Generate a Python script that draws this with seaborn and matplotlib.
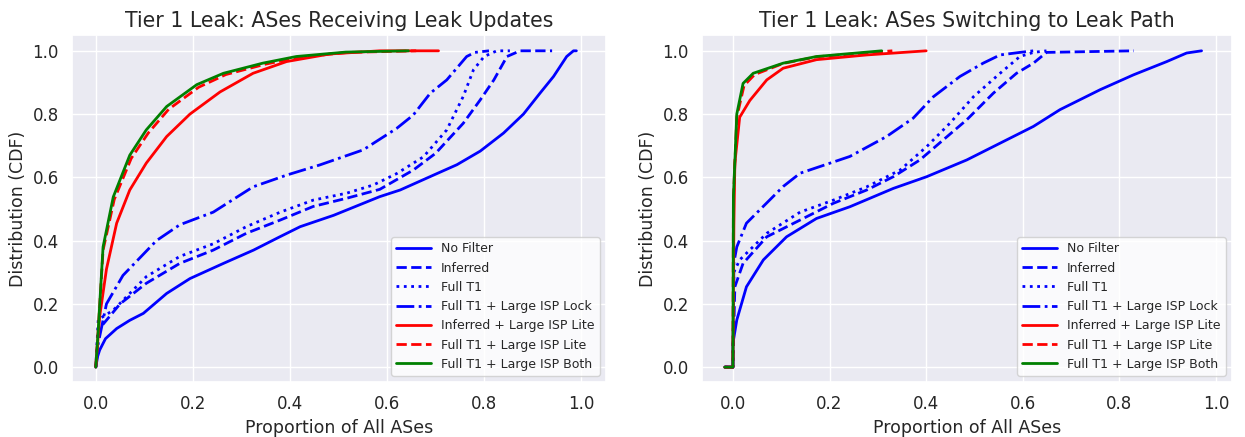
import matplotlib
matplotlib.use("Agg")
import matplotlib.pyplot as plt
import seaborn as sns
import pandas as pd

# ---- Data: CDF curves (x = proportion, y = CDF) ----
labels = ["No Filter", "Inferred", "Full T1", "Full T1 + Large ISP Lock",
          "Inferred + Large ISP Lite", "Full T1 + Large ISP Lite", "Full T1 + Large ISP Both"]
colors = ["blue", "blue", "blue", "blue", "red", "red", "green"]
styles = ["-", "--", ":", "-.", "-", "--", "-"]

# Left panel: ASes Receiving Leak Updates
recv_nofilter_x = [0.0, 0.004, 0.008, 0.02, 0.043, 0.07, 0.098, 0.146, 0.194, 0.263, 0.325, 0.379, 0.421, 0.49, 0.585, 0.627, 0.70, 0.744, 0.792, 0.84, 0.881, 0.915, 0.943, 0.97, 0.984, 0.99]
recv_nofilter_y = [0.0, 0.035, 0.054, 0.09, 0.122, 0.148, 0.17, 0.233, 0.28, 0.328, 0.37, 0.412, 0.444, 0.48, 0.539, 0.56, 0.61, 0.64, 0.683, 0.74, 0.80, 0.866, 0.919, 0.982, 1.0, 1.0]
recv_inferred_x = [0.0, 0.006, 0.012, 0.05, 0.104, 0.173, 0.242, 0.31, 0.38, 0.448, 0.517, 0.585, 0.654, 0.70, 0.757, 0.792, 0.82, 0.847, 0.874, 0.94]
recv_inferred_y = [0.0, 0.12, 0.13, 0.20, 0.265, 0.328, 0.37, 0.423, 0.465, 0.508, 0.534, 0.562, 0.623, 0.676, 0.771, 0.845, 0.908, 0.982, 1.0, 1.0]
recv_fullt1_x = [0.0, 0.005, 0.036, 0.104, 0.173, 0.242, 0.31, 0.38, 0.448, 0.517, 0.572, 0.62, 0.675, 0.723, 0.757, 0.778, 0.80, 0.826, 0.853]
recv_fullt1_y = [0.0, 0.15, 0.18, 0.286, 0.35, 0.39, 0.444, 0.49, 0.528, 0.55, 0.576, 0.612, 0.665, 0.75, 0.856, 0.94, 0.982, 1.0, 1.0]
recv_lock_x = [0.0, 0.005, 0.022, 0.056, 0.125, 0.173, 0.242, 0.324, 0.393, 0.461, 0.551, 0.62, 0.654, 0.689, 0.723, 0.764, 0.781, 0.81]
recv_lock_y = [0.0, 0.075, 0.2, 0.29, 0.40, 0.45, 0.49, 0.57, 0.607, 0.639, 0.687, 0.755, 0.797, 0.866, 0.908, 0.982, 0.995, 1.0]
recv_inflite_x = [0.0, 0.008, 0.022, 0.043, 0.07, 0.104, 0.146, 0.194, 0.256, 0.324, 0.393, 0.482, 0.585, 0.706]
recv_inflite_y = [0.0, 0.16, 0.31, 0.455, 0.56, 0.645, 0.729, 0.80, 0.87, 0.929, 0.966, 0.99, 1.0, 1.0]
recv_t1lite_x = [0.0, 0.005, 0.015, 0.038, 0.073, 0.108, 0.150, 0.212, 0.268, 0.350, 0.420, 0.52, 0.66]
recv_t1lite_y = [0.0, 0.117, 0.37, 0.53, 0.66, 0.74, 0.815, 0.885, 0.925, 0.958, 0.98, 0.995, 1.0]
recv_both_x = [0.0, 0.005, 0.015, 0.036, 0.07, 0.104, 0.146, 0.208, 0.263, 0.344, 0.413, 0.515, 0.644]
recv_both_y = [0.0, 0.117, 0.38, 0.538, 0.67, 0.75, 0.824, 0.893, 0.929, 0.961, 0.982, 0.996, 1.0]

# Right panel: ASes Switching to Leak Path
sw_nofilter_x = [-0.017, 0.0, 0.0, 0.008, 0.028, 0.063, 0.111, 0.173, 0.242, 0.332, 0.401, 0.484, 0.553, 0.622, 0.677, 0.76, 0.829, 0.898, 0.939, 0.97]
sw_nofilter_y = [0.0, 0.0, 0.075, 0.149, 0.254, 0.339, 0.412, 0.47, 0.507, 0.565, 0.602, 0.655, 0.708, 0.761, 0.814, 0.877, 0.924, 0.966, 0.993, 1.0]
sw_inferred_x = [-0.017, 0.0, 0.004, 0.021, 0.07, 0.139, 0.208, 0.277, 0.332, 0.387, 0.435, 0.484, 0.539, 0.587, 0.622, 0.649, 0.83]
sw_inferred_y = [0.0, 0.0, 0.254, 0.328, 0.412, 0.465, 0.518, 0.56, 0.602, 0.655, 0.718, 0.782, 0.866, 0.929, 0.961, 0.995, 1.0]
sw_fullt1_x = [-0.017, 0.0, 0.002, 0.014, 0.07, 0.139, 0.208, 0.277, 0.346, 0.401, 0.449, 0.498, 0.553, 0.594, 0.622, 0.649]
sw_fullt1_y = [0.0, 0.0, 0.30, 0.339, 0.423, 0.49, 0.528, 0.57, 0.623, 0.697, 0.771, 0.855, 0.929, 0.982, 0.995, 1.0]
sw_lock_x = [-0.017, 0.0, 0.002, 0.008, 0.028, 0.104, 0.139, 0.242, 0.318, 0.373, 0.415, 0.47, 0.518, 0.553, 0.594, 0.622]
sw_lock_y = [0.0, 0.0, 0.33, 0.38, 0.455, 0.571, 0.613, 0.666, 0.729, 0.787, 0.855, 0.919, 0.961, 0.987, 0.995, 1.0]
sw_inflite_x = [-0.017, 0.0, 0.002, 0.004, 0.014, 0.035, 0.07, 0.104, 0.173, 0.277, 0.40]
sw_inflite_y = [0.0, 0.0, 0.45, 0.645, 0.79, 0.843, 0.908, 0.945, 0.972, 0.987, 1.0]
sw_t1lite_x = [-0.017, 0.0, 0.001, 0.008, 0.023, 0.045, 0.104, 0.173, 0.33]
sw_t1lite_y = [0.0, 0.0, 0.53, 0.79, 0.89, 0.925, 0.96, 0.981, 1.0]
sw_both_x = [-0.017, 0.0, 0.001, 0.008, 0.021, 0.042, 0.104, 0.173, 0.308]
sw_both_y = [0.0, 0.0, 0.539, 0.80, 0.897, 0.929, 0.961, 0.982, 1.0]

recv = [(recv_nofilter_x, recv_nofilter_y), (recv_inferred_x, recv_inferred_y),
        (recv_fullt1_x, recv_fullt1_y), (recv_lock_x, recv_lock_y),
        (recv_inflite_x, recv_inflite_y), (recv_t1lite_x, recv_t1lite_y),
        (recv_both_x, recv_both_y)]
switch = [(sw_nofilter_x, sw_nofilter_y), (sw_inferred_x, sw_inferred_y),
          (sw_fullt1_x, sw_fullt1_y), (sw_lock_x, sw_lock_y),
          (sw_inflite_x, sw_inflite_y), (sw_t1lite_x, sw_t1lite_y),
          (sw_both_x, sw_both_y)]

titles = ["Tier 1 Leak: ASes Receiving Leak Updates", "Tier 1 Leak: ASes Switching to Leak Path"]
xticks = [0.0, 0.2, 0.4, 0.6, 0.8, 1.0]
yticks = [0.0, 0.2, 0.4, 0.6, 0.8, 1.0]

sns.set_theme(style="darkgrid")
plt.rcParams['font.family'] = ['DejaVu Sans']

fig = plt.figure(figsize=(12.45, 4.37), dpi=100)
ax1 = fig.add_axes([72/1245, 55/437, 534/1245, 347/437])
ax2 = fig.add_axes([702/1245, 55/437, 530/1245, 347/437])

for ax, series, title, xlim in [(ax1, recv, titles[0], (-0.049, 1.051)),
                                 (ax2, switch, titles[1], (-0.064, 1.033))]:
    for (xs, ys), lab, c, ls in zip(series, labels, colors, styles):
        df = pd.DataFrame({"x": xs, "y": ys})
        sns.lineplot(data=df, x="x", y="y", sort=False, estimator=None,
                     color=c, linestyle=ls, linewidth=2, label=lab, ax=ax)
    ax.set_xlim(*xlim)
    ax.set_ylim(-0.047, 1.05)
    ax.set_xticks(xticks)
    ax.set_yticks(yticks)
    ax.tick_params(labelsize=12)
    ax.set_title(title, fontsize=14.8)
    ax.set_xlabel("Proportion of All ASes", fontsize=12.5)
    ax.set_ylabel("Distribution (CDF)", fontsize=12.5)
    ax.legend(loc="lower right", fontsize=9, frameon=True, facecolor="white",
              handlelength=2.8)

fig.savefig("out.png", dpi=100)
